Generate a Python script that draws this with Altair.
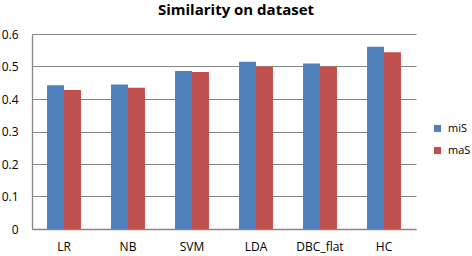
import altair as alt
import pandas as pd

categories = ["LR", "NB", "SVM", "LDA", "DBC_flat", "HC"]
series = ["miS", "maS"]
mis_values = [0.442, 0.445, 0.486, 0.515, 0.509, 0.561]
mas_values = [0.428, 0.435, 0.483, 0.500, 0.500, 0.544]
y_ticks = [0, 0.1, 0.2, 0.3, 0.4, 0.5, 0.6]
colors = ["#4F81BD", "#C0504D"]

rows = []
for c, a, b in zip(categories, mis_values, mas_values):
    rows.append({"method": c, "series": "miS", "value": a})
    rows.append({"method": c, "series": "maS", "value": b})
df = pd.DataFrame(rows)

FONT = "Open Sans"

chart = alt.Chart(df).mark_bar().encode(
    x=alt.X("method:N", sort=categories,
            scale=alt.Scale(paddingInner=0.47, paddingOuter=0.235),
            axis=alt.Axis(title=None, labelAngle=0, ticks=False, labelPadding=12,
                          labelFontSize=12, labelFont=FONT, labelColor="#000000",
                          domainColor="#868686", domainWidth=1.3)),
    xOffset=alt.XOffset("series:N", sort=series,
                        scale=alt.Scale(paddingInner=0, paddingOuter=0)),
    y=alt.Y("value:Q", scale=alt.Scale(domain=[0, 0.6], nice=False),
            axis=alt.Axis(title=None, values=y_ticks, ticks=False, labelPadding=14,
                          labelFontSize=12, labelFont=FONT, labelColor="#000000",
                          gridColor="#868686", gridWidth=1.2,
                          domainColor="#868686", domainWidth=1.3,
                          format="~g")),
    color=alt.Color("series:N", sort=series,
                    scale=alt.Scale(domain=series, range=colors),
                    legend=alt.Legend(title=None, orient="none", legendX=400, legendY=89,
                                      symbolType="square", symbolSize=50,
                                      symbolStrokeWidth=0, labelFont=FONT,
                                      labelFontSize=11, labelColor="#000000",
                                      rowPadding=10, labelOffset=5)),
).properties(
    width=384,
    height=195,
    title=alt.TitleParams("Similarity on dataset", font=FONT, fontSize=15,
                          fontWeight="bold", color="#000000", anchor="middle",
                          offset=10, dx=12),
).configure(
    autosize=alt.AutoSizeParams(type="none"),
    padding={"left": 32, "top": 34, "right": 56, "bottom": 27},
    background="#ffffff",
).configure_view(stroke=None)

chart.save("out.html", embed_options={"renderer": "svg", "actions": False})
